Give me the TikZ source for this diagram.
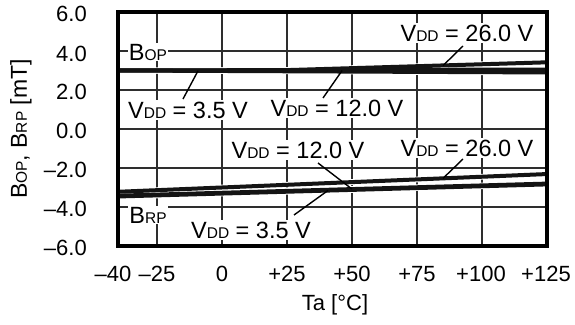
\documentclass[tikz,border=0pt]{standalone}
\usepackage{fontspec}
\setmainfont{Liberation Sans}
\newcommand\smallsub[1]{{\fontsize{15.5}{16}\selectfont #1}}
\begin{document}
\begin{tikzpicture}[x=1pt,y=-1pt,
  gridline/.style={line width=1.4pt, draw=black!82},
  frameline/.style={line width=3.2pt, draw=black},
  curve/.style={line width=4pt, draw=black!92},
  halo/.style={line width=5.8pt, draw=white},
  lbl/.style={fill=white, inner sep=1.2pt, font=\fontsize{23.5}{24}\selectfont},
  ticklbl/.style={inner sep=0pt, font=\fontsize{22}{24}\selectfont},
  ptr/.style={line width=1.4pt, draw=black}]
\useasboundingbox (0,0) rectangle (575,324);

\begin{scope}[shift={(222pt,-129pt)}, x=2.6pt, y=19.5pt]
  % grid
  \foreach \t in {-25,0,25,50,75,100} \draw[gridline] (\t,-6) -- (\t,6);
  \foreach \v in {-4,-2,0,2,4} \draw[gridline] (-40,\v) -- (125,\v);
  % curve halos
  \draw[halo] (-40,3.0) -- (125,2.9);
  \draw[halo] (-40,3.0) -- (125,3.05);
  \draw[halo] (-40,3.0) -- (25,3.02) -- (125,3.42);
  \draw[halo] (-40,-3.22) -- (125,-2.31);
  \draw[halo] (-40,-3.42) -- (125,-2.80);
  \draw[halo] (-40,-3.46) -- (125,-2.84);
  % curves
  \draw[curve] (-40,3.0) -- (125,2.9);
  \draw[curve] (-40,3.0) -- (125,3.05);
  \draw[curve] (-40,3.0) -- (25,3.02) -- (125,3.42);
  \draw[curve] (-40,-3.22) -- (125,-2.31);
  \draw[curve] (-40,-3.42) -- (125,-2.80);
  \draw[curve] (-40,-3.46) -- (125,-2.84);
  % points on curves
  \coordinate (c35u) at (-9.2,2.99);
  \coordinate (c12u) at (46.2,3.0);
  \coordinate (c26u) at (85,3.25);
  \coordinate (c12l) at (50,-3.08);
  \coordinate (c26l) at (85,-2.53);
  \coordinate (c35l) at (40.8,-3.15);
  % frame
  \draw[frameline] (-40,-6) rectangle (125,6);
\end{scope}

% labels
\node[lbl] (bop) at (148,52) {B\smallsub{OP}};
\node[lbl] (v35u) at (188,110) {V\smallsub{DD} = 3.5 V};
\node[lbl] (v12u) at (337,108) {V\smallsub{DD} = 12.0 V};
\node[lbl] (v26u) at (467,33) {V\smallsub{DD} = 26.0 V};
\node[lbl] (v12l) at (298,150) {V\smallsub{DD} = 12.0 V};
\node[lbl] (v26l) at (467,148) {V\smallsub{DD} = 26.0 V};
\node[lbl] (brp) at (148,215) {B\smallsub{RP}};
\node[lbl] (v35l) at (251,230) {V\smallsub{DD} = 3.5 V};

% pointer start points
\coordinate (s35u) at (183,99);
\coordinate (s12u) at (323,98);
\coordinate (s26u) at (463,46);
\coordinate (s12l) at (318,163);
\coordinate (s26l) at (463,159);
\coordinate (s35l) at (294,215);
\draw[ptr] (s35u) -- (c35u);
\draw[ptr] (s12u) -- (c12u);
\draw[ptr] (s26u) -- (c26u);
\draw[ptr] (s12l) -- (c12l);
\draw[ptr] (s26l) -- (c26l);
\draw[ptr] (s35l) -- (c35l);

% y tick labels
\node[ticklbl, anchor=east] (y6) at (87,14) {6.0};
\node[ticklbl, anchor=east] (y4) at (87,53.5) {4.0};
\node[ticklbl, anchor=east] (y2) at (87,92) {2.0};
\node[ticklbl, anchor=east] (y0) at (87,131) {0.0};
\node[ticklbl, anchor=east] (ym2) at (87,170) {–2.0};
\node[ticklbl, anchor=east] (ym4) at (87,209) {–4.0};
\node[ticklbl, anchor=east] (ym6) at (87,248) {–6.0};

% x tick labels
\node[ticklbl] (xm40) at (113,274) {–40};
\node[ticklbl] (xm25) at (157,274) {–25};
\node[ticklbl] (x0) at (222,274) {0};
\node[ticklbl] (x25) at (287,274) {+25};
\node[ticklbl] (x50) at (352,274) {+50};
\node[ticklbl] (x75) at (417,274) {+75};
\node[ticklbl] (x100) at (481,274) {+100};
\node[ticklbl] (x125) at (546,274) {+125};

% axis titles
\node[ticklbl, rotate=90, font=\fontsize{23}{24}\selectfont] (ytitle) at (21,129) {B\smallsub{OP}, B\smallsub{RP} [mT]};
\node[ticklbl, font=\fontsize{22}{24}\selectfont] (xtitle) at (335,305) {Ta [°C]};
\end{tikzpicture}
\end{document}
